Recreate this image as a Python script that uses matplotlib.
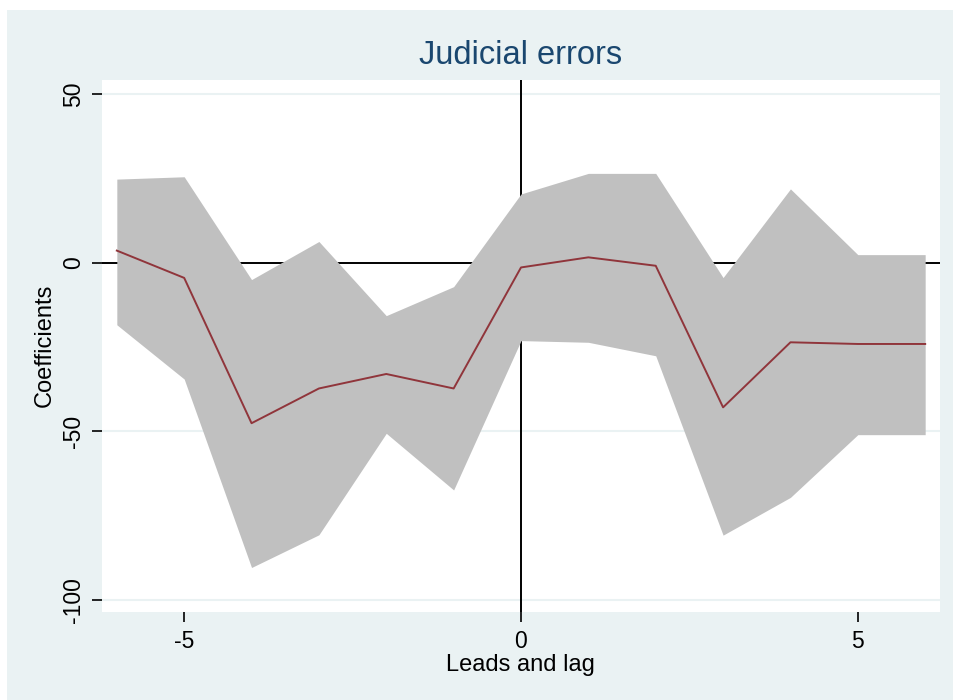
import matplotlib
matplotlib.use('Agg')
import matplotlib.pyplot as plt
from matplotlib.patches import Rectangle

# leads and lags, point estimates and 95% band
periods = [-6, -5, -4, -3, -2, -1, 0, 1, 2, 3, 4, 5, 6]
coef = [3.6, -4.5, -47.6, -37.3, -33.0, -37.3, -1.4, 1.6, -0.9, -42.9, -23.6, -24.1, -24.1]
ci_upper = [24.8, 25.5, -5.0, 6.3, -15.7, -7.1, 20.4, 26.5, 26.5, -4.4, 21.9, 2.4, 2.4]
ci_lower = [-18.4, -34.5, -90.4, -80.7, -50.6, -67.4, -23.1, -23.6, -27.6, -80.8, -69.6, -51.0, -51.0]

y_ticks = [50, 0, -50, -100]
x_ticks = [-5, 0, 5]

W, H = 954, 700
bg = '#EAF2F3'
font = 'Liberation Sans'

fig = plt.figure(figsize=(W / 100, H / 100), dpi=100, facecolor='white')
fig.patches.append(Rectangle((7 / W, 0), 1 - 7 / W, 1 - 10 / H, transform=fig.transFigure,
                             facecolor=bg, edgecolor='none', zorder=-10))

ax = fig.add_axes([102 / W, 88 / H, 838 / W, 532 / H])
ax.set_facecolor('white')

for y in [50, -50, -100]:
    ax.axhline(y, color=bg, lw=1.5, zorder=0.5)
ax.axhline(0, color='black', lw=1.4, zorder=1)
ax.axvline(0, color='black', lw=1.4, zorder=1)

ax.fill_between(periods, ci_lower, ci_upper, color='#C0C0C0', lw=0, zorder=2)
ax.plot(periods, coef, color='#90353B', lw=1.4, zorder=3)

ax.set_xlim(-6.22, 6.22)
ax.set_ylim(-103.6, 54.2)
ax.set_xticks(x_ticks)
ax.set_yticks(y_ticks)
ax.set_xticklabels([str(v) for v in x_ticks], family=font, fontsize=16.5)
ax.set_yticklabels([str(v) for v in y_ticks], family=font, fontsize=16.5,
                   rotation=90, va='center')
ax.tick_params(axis='x', length=7, width=1.2, pad=6, color='black')
ax.tick_params(axis='y', length=7, width=1.2, pad=5, color='black')
for s in ax.spines.values():
    s.set_visible(False)

fig.text(521 / W, 1 - 63.5 / H, 'Judicial errors', ha='center', va='baseline',
         family=font, fontsize=23.5, color='#1A476F')
fig.text(520 / W, 1 - 671.5 / H, 'Leads and lag', ha='center', va='baseline',
         family=font, fontsize=17, color='black')
fig.text(45 / W, 1 - 345 / H, 'Coefficients', ha='center', va='center', rotation=90,
         family=font, fontsize=17, color='black')

fig.savefig('out.png', dpi=100, facecolor='white')
